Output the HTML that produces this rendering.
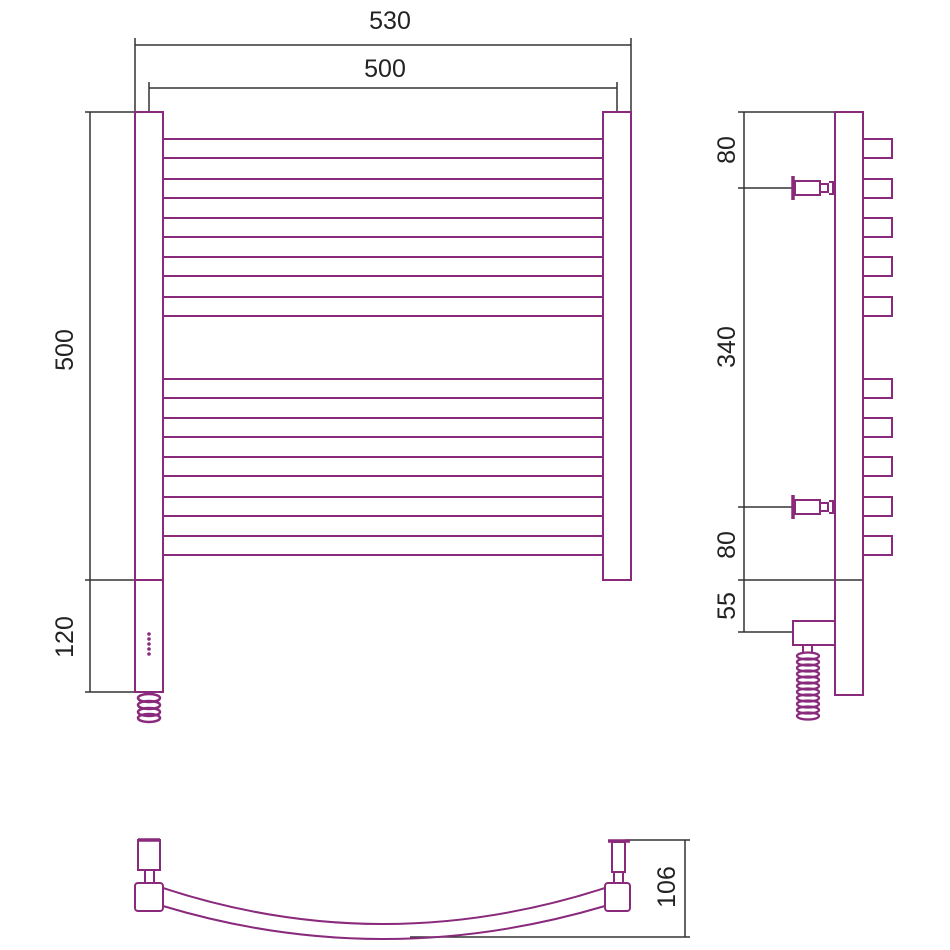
<!DOCTYPE html>
<html><head><meta charset="utf-8"><style>
html,body{margin:0;padding:0;background:#fff;}
svg{display:block;}
text{font-family:"Liberation Sans",sans-serif;font-size:25px;fill:#222;}
</style></head><body>
<svg width="950" height="950" viewBox="0 0 950 950" xmlns="http://www.w3.org/2000/svg">
<g stroke="#333" stroke-width="1.5" fill="none">
  <!-- top dims -->
  <line x1="135" y1="45" x2="631" y2="45"/>
  <line x1="135" y1="38" x2="135" y2="112"/>
  <line x1="631" y1="38" x2="631" y2="112"/>
  <line x1="149" y1="88" x2="617" y2="88"/>
  <line x1="149" y1="82" x2="149" y2="112"/>
  <line x1="617" y1="82" x2="617" y2="112"/>
  <!-- left dims -->
  <line x1="90" y1="112" x2="90" y2="692"/>
  <line x1="85" y1="112" x2="135" y2="112"/>
  <line x1="85" y1="580" x2="135" y2="580"/>
  <line x1="85" y1="692" x2="135" y2="692"/>
  <!-- side dims -->
  <line x1="744" y1="112" x2="744" y2="632"/>
  <line x1="738" y1="112" x2="835" y2="112"/>
  <line x1="738" y1="188" x2="793" y2="188"/>
  <line x1="738" y1="507" x2="793" y2="507"/>
  <line x1="738" y1="580" x2="863" y2="580"/>
  <line x1="738" y1="632" x2="793" y2="632"/>
  <!-- bottom dim -->
  <line x1="685" y1="840" x2="685" y2="937"/>
  <line x1="625" y1="840" x2="690" y2="840"/>
  <line x1="410" y1="937" x2="690" y2="937"/>
</g>
<g stroke="#8a2a7c" stroke-width="2" fill="none">
  <!-- front posts -->
  <rect x="135" y="112" width="28" height="580"/>
  <line x1="135" y1="580" x2="163" y2="580"/>
  <rect x="603" y="112" width="28" height="468"/>
  <!-- bars -->
  <rect x="163" y="139" width="440" height="19"/>
  <rect x="163" y="179" width="440" height="19"/>
  <rect x="163" y="218" width="440" height="19"/>
  <rect x="163" y="257" width="440" height="19"/>
  <rect x="163" y="297" width="440" height="19"/>
  <rect x="163" y="379" width="440" height="19"/>
  <rect x="163" y="418" width="440" height="19"/>
  <rect x="163" y="457" width="440" height="19"/>
  <rect x="163" y="497" width="440" height="19"/>
  <rect x="163" y="536" width="440" height="19"/>
  <!-- front coil -->
  <g stroke-width="2.5">
  <ellipse cx="149" cy="698" rx="11" ry="4"/>
  <ellipse cx="149" cy="705" rx="11" ry="4"/>
  <ellipse cx="149" cy="712" rx="11" ry="4"/>
  <ellipse cx="149" cy="718" rx="11" ry="4"/>
  </g>
  <!-- side post -->
  <rect x="835" y="112" width="28" height="583"/>
  <rect x="863" y="139" width="29" height="19"/>
  <rect x="863" y="179" width="29" height="19"/>
  <rect x="863" y="218" width="29" height="19"/>
  <rect x="863" y="257" width="29" height="19"/>
  <rect x="863" y="297" width="29" height="19"/>
  <rect x="863" y="379" width="29" height="19"/>
  <rect x="863" y="418" width="29" height="19"/>
  <rect x="863" y="457" width="29" height="19"/>
  <rect x="863" y="497" width="29" height="19"/>
  <rect x="863" y="536" width="29" height="19"/>
  <!-- valves -->
  <g>
  <line x1="793" y1="176" x2="793" y2="200" stroke-width="3.5"/>
  <rect x="795" y="181" width="25" height="14"/>
  <rect x="820" y="184" width="8" height="8"/>
  <line x1="829" y1="182" x2="833" y2="182"/><line x1="829" y1="194" x2="833" y2="194"/>
  <line x1="833" y1="181" x2="833" y2="195"/>
  </g>
  <g transform="translate(0,319)">
  <line x1="793" y1="176" x2="793" y2="200" stroke-width="3.5"/>
  <rect x="795" y="181" width="25" height="14"/>
  <rect x="820" y="184" width="8" height="8"/>
  <line x1="829" y1="182" x2="833" y2="182"/><line x1="829" y1="194" x2="833" y2="194"/>
  <line x1="833" y1="181" x2="833" y2="195"/>
  </g>
  <!-- heater block side -->
  <rect x="793" y="621" width="42" height="24"/>
  <line x1="803" y1="645" x2="803" y2="652"/><line x1="812" y1="645" x2="812" y2="652"/>
  <g stroke-width="2.3">
  <ellipse cx="808" cy="656" rx="11" ry="3.5"/>
  <ellipse cx="808" cy="662" rx="11" ry="3.5"/>
  <ellipse cx="808" cy="668" rx="11" ry="3.5"/>
  <ellipse cx="808" cy="674" rx="11" ry="3.5"/>
  <ellipse cx="808" cy="680" rx="11" ry="3.5"/>
  <ellipse cx="808" cy="686" rx="11" ry="3.5"/>
  <ellipse cx="808" cy="692" rx="11" ry="3.5"/>
  <ellipse cx="808" cy="698" rx="11" ry="3.5"/>
  <ellipse cx="808" cy="704" rx="11" ry="3.5"/>
  <ellipse cx="808" cy="710" rx="11" ry="3.5"/>
  <ellipse cx="808" cy="716" rx="11" ry="3.5"/>
  </g>
  <!-- bottom view -->
  <rect x="135" y="883" width="28" height="28" rx="3"/>
  <rect x="138" y="840" width="22" height="30"/>
  <line x1="138" y1="840" x2="160" y2="840" stroke-width="3.5"/>
  <rect x="145" y="870" width="9" height="13"/>
  <rect x="605" y="883" width="25" height="28" rx="3"/>
  <rect x="612" y="842" width="13" height="30"/>
  <line x1="608" y1="841" x2="630" y2="841" stroke-width="3.5"/>
  <rect x="614" y="872" width="9" height="11"/>
  <path d="M163,888 Q382,960 605,888"/>
  <path d="M163,906 Q382,972 605,906"/>
</g>
<g fill="#8a2a7c">
  <circle cx="149" cy="634" r="1.8"/><circle cx="149" cy="639" r="1.8"/><circle cx="149" cy="644" r="1.8"/><circle cx="149" cy="649" r="1.8"/><circle cx="149" cy="654" r="1.8"/>
</g>
<text x="390" y="29" text-anchor="middle">530</text>
<text x="385" y="77" text-anchor="middle">500</text>
<text transform="translate(73,350) rotate(-90)" text-anchor="middle">500</text>
<text transform="translate(73,637) rotate(-90)" text-anchor="middle">120</text>
<text transform="translate(735,150) rotate(-90)" text-anchor="middle">80</text>
<text transform="translate(735,347) rotate(-90)" text-anchor="middle">340</text>
<text transform="translate(735,545) rotate(-90)" text-anchor="middle">80</text>
<text transform="translate(735,606) rotate(-90)" text-anchor="middle">55</text>
<text transform="translate(675,887) rotate(-90)" text-anchor="middle">106</text>
</svg>
</body></html>
